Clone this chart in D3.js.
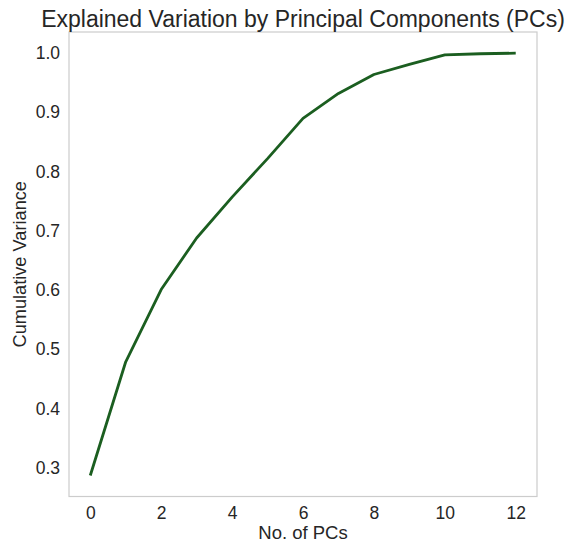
<!DOCTYPE html>
<html>
<head>
<meta charset="utf-8">
<script src="https://cdn.jsdelivr.net/npm/d3@7"></script>
<style>
  html, body { margin: 0; padding: 0; background: #fff; }
  svg { display: block; font-family: "Liberation Sans", Arial, sans-serif; }
</style>
</head>
<body>
<svg id="chart" width="569" height="544"></svg>
<script>
// Cumulative explained variance for each principal component
const components = [0, 1, 2, 3, 4, 5, 6, 7, 8, 9, 10, 11, 12];
const cumulativeVariance = [0.287, 0.479, 0.601, 0.688, 0.757, 0.822, 0.890, 0.932, 0.964, 0.981, 0.997, 0.999, 1.0];
const xTicks = [0, 2, 4, 6, 8, 10, 12];
const yTicks = [0.3, 0.4, 0.5, 0.6, 0.7, 0.8, 0.9, 1.0];

const svg = d3.select("#chart");
const box = { left: 69, right: 537, top: 32, bottom: 496.5 };

const x = d3.scaleLinear().domain([-0.6, 12.6]).range([box.left, box.right]);
const y = d3.scaleLinear().domain([0.2516, 1.0357]).range([box.bottom, box.top]);

// Axes frame
svg.append("rect")
  .attr("x", box.left).attr("y", box.top)
  .attr("width", box.right - box.left).attr("height", box.bottom - box.top)
  .attr("fill", "none").attr("stroke", "#cccccc").attr("stroke-width", 1.2);

// Tick labels
const xAxis = svg.append("g").attr("transform", `translate(0,${box.bottom})`)
  .call(d3.axisBottom(x).tickValues(xTicks).tickFormat(d3.format("d")).tickSize(0).tickPadding(10.5));
const yAxis = svg.append("g").attr("transform", `translate(${box.left},0)`)
  .call(d3.axisLeft(y).tickValues(yTicks).tickFormat(d3.format(".1f")).tickSize(0).tickPadding(9));
[xAxis, yAxis].forEach(g => {
  g.select(".domain").remove();
  g.selectAll("text").attr("font-size", 17.5).attr("fill", "#262626")
    .attr("font-family", "\"Liberation Sans\", Arial, sans-serif");
});

// Cumulative variance curve
svg.append("path")
  .datum(components.map((c, i) => [c, cumulativeVariance[i]]))
  .attr("fill", "none")
  .attr("stroke", "#1b5e20")
  .attr("stroke-width", 2.8)
  .attr("stroke-linejoin", "round")
  .attr("d", d3.line().x(d => x(d[0])).y(d => y(d[1])));

// Titles
svg.append("text")
  .attr("x", 303).attr("y", 27)
  .attr("text-anchor", "middle").attr("font-size", 23).attr("fill", "#262626")
  .text("Explained Variation by Principal Components (PCs)");

svg.append("text")
  .attr("x", (box.left + box.right) / 2).attr("y", 538.5)
  .attr("text-anchor", "middle").attr("font-size", 18.5).attr("fill", "#262626")
  .text("No. of PCs");

svg.append("text")
  .attr("transform", `translate(26,${(box.top + box.bottom) / 2}) rotate(-90)`)
  .attr("text-anchor", "middle").attr("font-size", 18.2).attr("fill", "#262626")
  .text("Cumulative Variance");
</script>
</body>
</html>
